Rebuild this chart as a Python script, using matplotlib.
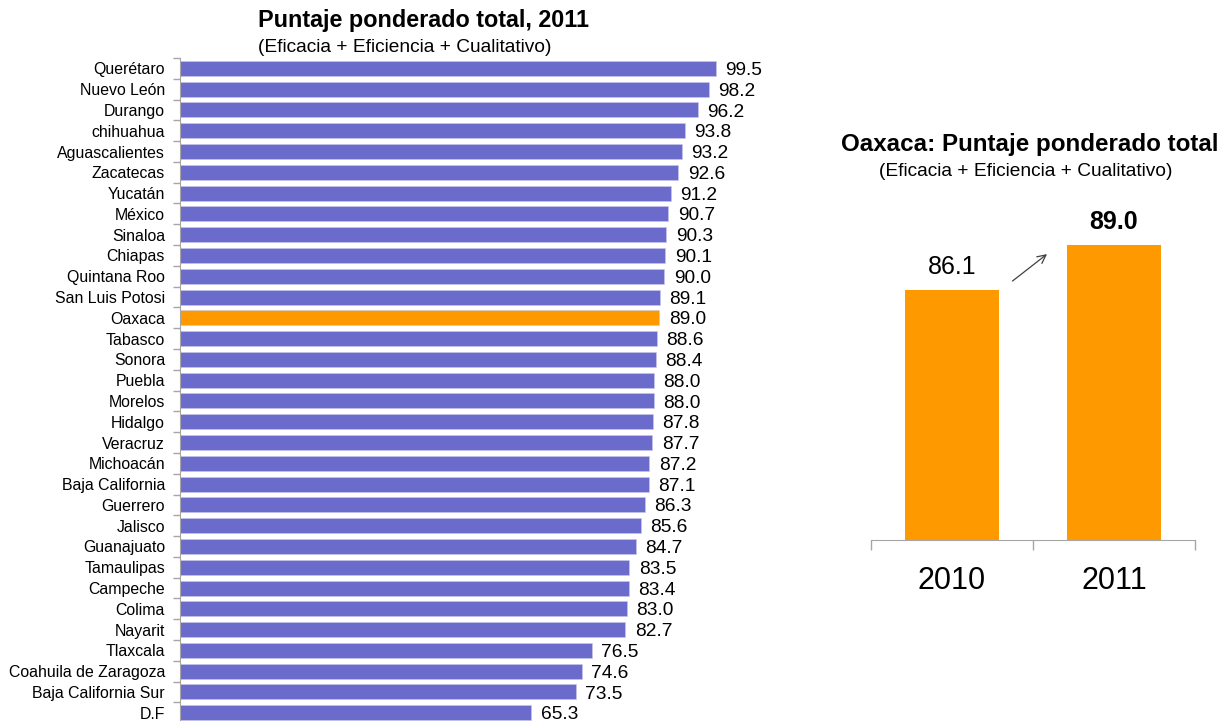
import matplotlib
matplotlib.use("Agg")
import matplotlib.pyplot as plt

plt.rcParams['font.family'] = ['Liberation Sans', 'DejaVu Sans']

states = ["Querétaro", "Nuevo León", "Durango", "chihuahua", "Aguascalientes", "Zacatecas",
          "Yucatán", "México", "Sinaloa", "Chiapas", "Quintana Roo", "San Luis Potosi",
          "Oaxaca", "Tabasco", "Sonora", "Puebla", "Morelos", "Hidalgo", "Veracruz",
          "Michoacán", "Baja California", "Guerrero", "Jalisco", "Guanajuato", "Tamaulipas",
          "Campeche", "Colima", "Nayarit", "Tlaxcala", "Coahuila de Zaragoza",
          "Baja California Sur", "D.F"]
scores = [99.5, 98.2, 96.2, 93.8, 93.2, 92.6, 91.2, 90.7, 90.3, 90.1, 90.0, 89.1,
          89.0, 88.6, 88.4, 88.0, 88.0, 87.8, 87.7, 87.2, 87.1, 86.3, 85.6, 84.7, 83.5,
          83.4, 83.0, 82.7, 76.5, 74.6, 73.5, 65.3]
highlight = "Oaxaca"

years = ["2010", "2011"]
oax_scores = [86.1, 89.0]

PURPLE = "#6B6BCC"
ORANGE = "#FF9900"
GRAY = "#A6A6A6"

fig = plt.figure(figsize=(12.29, 7.21), dpi=100)

# ---- Left chart ----
ax = fig.add_axes([0.1465, -0.003, 0.4817, 0.9226])
ypos = list(range(len(states)))
colors = [ORANGE if s == highlight else PURPLE for s in states]
ax.barh(ypos, scores, height=0.72, color=colors, edgecolor="#C8C8EC", linewidth=0.4)
ax.set_ylim(len(states) - 0.5, -0.5)
ax.set_xlim(0, 110)
ax.set_yticks(ypos)
ax.set_yticklabels(states, fontsize=11.4)
ax.set_yticks([i - 0.5 for i in range(len(states) + 1)], minor=True)
ax.tick_params(axis='y', which='major', length=0, pad=10.8)
ax.tick_params(axis='y', which='minor', length=5, color=GRAY, width=1, direction='out')
ax.set_xticks([])
for sp in ["top", "right", "bottom"]:
    ax.spines[sp].set_visible(False)
ax.spines["left"].set_color(GRAY)
for y, v in zip(ypos, scores):
    ax.annotate(f"{v:.1f}", (v, y), xytext=(7, -1.5), textcoords="offset points",
                ha="left", va="center", fontsize=13.8)

fig.text(258 / 1229, 1 - 20 / 721, "Puntaje ponderado total, 2011", fontsize=16.8,
         fontweight="bold", ha="left", va="center")
fig.text(258 / 1229, 1 - 47 / 721, "(Eficacia + Eficiencia + Cualitativo)", fontsize=13.8,
         ha="left", va="center")

# ---- Right chart ----
ax2 = fig.add_axes([871 / 1229, 1 - 540 / 721, (1195 - 871) / 1229, (540 - 198) / 721])
xpos = list(range(len(years)))
ax2.bar(xpos, oax_scores, width=0.58, color=ORANGE)
ax2.set_xlim(-0.5, 1.5)
ax2.set_ylim(70, 92)
ax2.set_yticks([])
ax2.set_xticks(xpos)
ax2.set_xticklabels(years, fontsize=22)
ax2.set_xticks([-0.5, 0.5, 1.5], minor=True)
ax2.tick_params(axis='x', which='major', length=0, pad=19)
ax2.tick_params(axis='x', which='minor', length=7, color=GRAY, width=1, direction='out')
for sp in ["top", "right", "left"]:
    ax2.spines[sp].set_visible(False)
ax2.spines["bottom"].set_color(GRAY)
ax2.annotate(f"{oax_scores[0]:.1f}", (xpos[0], oax_scores[0]), xytext=(0, 8),
             textcoords="offset points", ha="center", va="bottom", fontsize=18)
ax2.annotate(f"{oax_scores[1]:.1f}", (xpos[1], oax_scores[1]), xytext=(0, 8),
             textcoords="offset points", ha="center", va="bottom", fontsize=18,
             fontweight="bold")
ax2.annotate("", xy=(0.6, 88.5), xytext=(0.36, 86.55),
             arrowprops=dict(arrowstyle="->,head_length=0.6,head_width=0.3",
                             color="#404040", lw=0.9))

fig.text(1030 / 1229, 1 - 145 / 721, "Oaxaca: Puntaje ponderado total", fontsize=17.4,
         fontweight="bold", ha="center", va="center")
fig.text(1026 / 1229, 1 - 171 / 721, "(Eficacia + Eficiencia + Cualitativo)", fontsize=13.8,
         ha="center", va="center")

fig.savefig("out.png", dpi=100)
